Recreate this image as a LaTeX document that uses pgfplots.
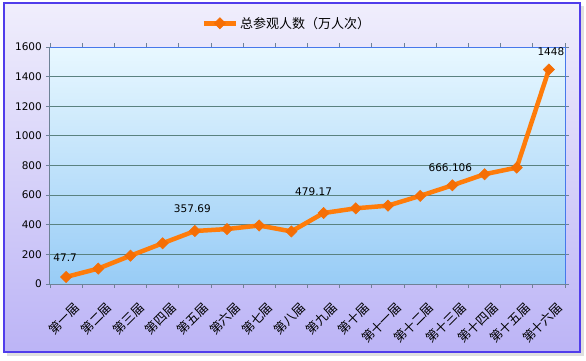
\documentclass[border=0pt]{standalone}
\usepackage{pgfplots}
\pgfplotsset{compat=1.18}
\usepackage{fontspec}
\setmainfont{DejaVu Sans}
\newfontfamily\cjk{Noto Sans CJK SC}
\definecolor{lineor}{RGB}{255,124,10}
\definecolor{markor}{RGB}{245,110,5}
\definecolor{gridc}{RGB}{90,130,128}
\definecolor{axc}{RGB}{110,130,150}
\definecolor{bluefr}{RGB}{70,120,235}
\definecolor{framec}{RGB}{80,60,235}
\begin{document}
\begin{tikzpicture}[x=1pt,y=1pt]
\useasboundingbox (0,0) rectangle (586,360);
\fill[black!25,opacity=0.5] (7,4) rectangle (584,354);
\shade[top color={rgb,255:red,240;green,238;blue,252},bottom color={rgb,255:red,188;green,180;blue,246}] (4,8) rectangle (580,357);
\draw[framec,line width=1.2pt] (4,8) rectangle (580,357);
\begin{axis}[
  at={(50pt,76pt)}, anchor=south west,
  scale only axis, width=515pt, height=237pt,
  xmin=0.5, xmax=16.5, ymin=0, ymax=1600,
  axis background/.style={shade, top color={rgb,255:red,232;green,248;blue,255}, bottom color={rgb,255:red,152;green,204;blue,246}},
  axis line style={draw=none},
  xtick={0.5,1.5,...,16.5},
  x tick label as interval,
  xticklabels={第一届,第二届,第三届,第四届,第五届,第六届,第七届,第八届,第九届,第十届,第十一届,第十二届,第十三届,第十四届,第十五届,第十六届},
  xticklabel style={rotate=45, anchor=east, font=\cjk\fontsize{12.5}{14}\selectfont, inner sep=1pt, xshift=-3pt, yshift=-20pt},
  ytick={0,200,...,1600},
  yticklabel style={font=\fontsize{10.5}{12}\selectfont, /pgf/number format/assume math mode=true, /pgf/number format/1000 sep={}, inner sep=1pt, xshift=-3pt},
  tick align=outside, major tick length=4pt,
  tick style={axc, line width=0.8pt},
  ymajorgrids, major grid style={gridc, line width=1pt},
  legend style={at={(0.46,1.1)}, anchor=center, draw=none, fill=none, font=\cjk\fontsize{13}{15}\selectfont, inner sep=0pt},
  legend image code/.code={\draw[mark repeat=2,mark phase=2,#1] plot coordinates {(0pt,0pt) (16pt,0pt) (32pt,0pt)};},
  clip=false,
]
\draw[axc, line width=1pt] (rel axis cs:0,1) -- (rel axis cs:0,0) -- (rel axis cs:1,0);
\draw[bluefr, line width=1pt] (rel axis cs:0,1) -- (rel axis cs:1,1) -- (rel axis cs:1,0);
\addplot[lineor, line width=4.5pt, mark=square*, mark size=4pt, mark options={rotate=45, fill=markor, draw=markor, line width=0.5pt}] coordinates {
(1,47.7) (2,104) (3,191) (4,275) (5,357.69) (6,371) (7,395) (8,355)
(9,479.17) (10,511) (11,529) (12,595) (13,666.106) (14,741) (15,786) (16,1448)
};
\addlegendentry{总参观人数（万人次）}
\node[font=\fontsize{10.5}{12}\selectfont, inner sep=0pt] at (axis cs:1,47.7) [xshift=-1pt,yshift=19pt] {47.7};
\node[font=\fontsize{10.5}{12}\selectfont, inner sep=0pt] at (axis cs:5,357.69) [xshift=-2.5pt,yshift=22pt] {357.69};
\node[font=\fontsize{10.5}{12}\selectfont, inner sep=0pt] at (axis cs:9,479.17) [xshift=-10pt,yshift=21pt] {479.17};
\node[font=\fontsize{10.5}{12}\selectfont, inner sep=0pt] at (axis cs:13,666.106) [xshift=-2pt,yshift=18pt] {666.106};
\node[font=\fontsize{10.5}{12}\selectfont, inner sep=0pt] at (axis cs:16,1448) [xshift=2pt,yshift=18pt] {1448};
\end{axis}
\end{tikzpicture}
\end{document}
